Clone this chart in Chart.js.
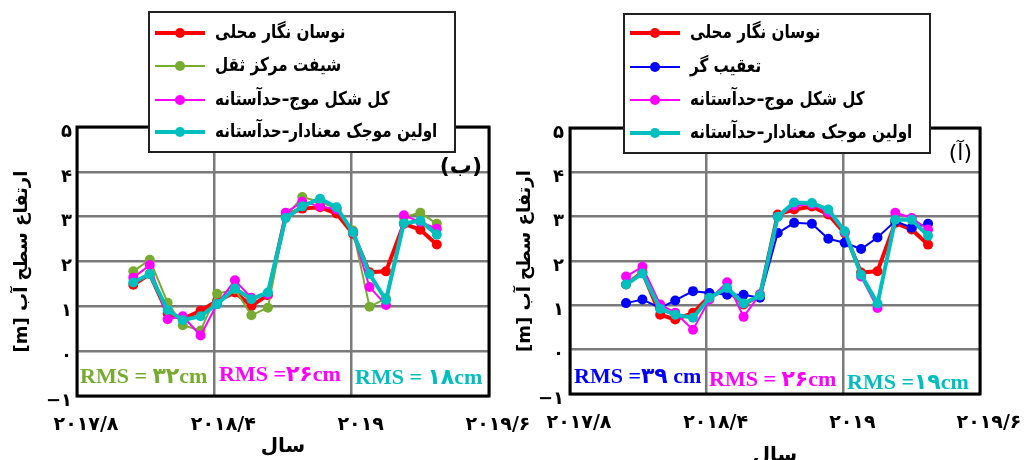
<!DOCTYPE html>
<html>
<head>
<meta charset="utf-8">
<script src="https://cdn.jsdelivr.net/npm/chart.js@4.4.0/dist/chart.umd.min.js"></script>
<style>
  html, body { margin: 0; padding: 0; background: #fff; overflow: hidden; }
  #wrap { position: relative; width: 1025px; height: 460px; }
  canvas { position: absolute; top: 0; }
  #left { left: 0; }
  #right { left: 512px; }
</style>
</head>
<body>
<div id="wrap">
  <canvas id="left" width="545" height="460"></canvas>
  <canvas id="right" width="513" height="460"></canvas>
</div>
<script>
// position of each sample along the (evenly spaced) date axis
const xPos = [0.41, 0.53, 0.66, 0.77, 0.90, 1.02, 1.15, 1.27, 1.39, 1.52, 1.64, 1.77, 1.89, 2.01, 2.13, 2.25, 2.38, 2.50, 2.62];
const xTickLabels = ['۲۰۱۷/۸', '۲۰۱۸/۴', '۲۰۱۹', '۲۰۱۹/۶'];
const yTickLabels = ['−۱', '۰', '۱', '۲', '۳', '۴', '۵'];

const seriesNames = {
  gauge: 'نوسان نگار محلی',
  cog: 'شیفت مرکز ثقل',
  tracker: 'تعقیب گر',
  fullWave: 'کل شکل موج–حدآستانه',
  firstWavelet: 'اولین موجک معنادار–حدآستانه'
};

// panel (ب)
const gaugeB    = [1.48, 1.72, 0.84, 0.72, 0.90, 1.12, 1.31, 1.01, 1.25, 3.03, 3.18, 3.21, 3.07, 2.62, 1.76, 1.78, 2.84, 2.71, 2.38];
const cogB      = [1.78, 2.04, 1.08, 0.58, 0.46, 1.28, 1.38, 0.80, 0.97, 3.00, 3.44, 3.33, 3.18, 2.69, 0.99, 1.18, 2.99, 3.09, 2.84];
const fullWaveB = [1.64, 1.92, 0.71, 0.78, 0.35, 1.05, 1.58, 1.19, 1.27, 3.09, 3.33, 3.23, 3.16, 2.65, 1.43, 1.03, 3.03, 2.88, 2.73];
const firstWvB  = [1.53, 1.72, 0.92, 0.69, 0.78, 1.05, 1.40, 1.16, 1.31, 2.97, 3.23, 3.40, 3.21, 2.65, 1.72, 1.14, 2.85, 2.91, 2.60];

// panel (آ)
const gaugeA    = [1.47, 1.75, 0.79, 0.68, 0.83, 1.20, 1.35, 1.02, 1.22, 3.05, 3.16, 3.23, 3.05, 2.63, 1.74, 1.77, 2.86, 2.71, 2.37];
const trackerA  = [1.05, 1.13, 0.94, 1.11, 1.32, 1.28, 1.24, 1.24, 1.17, 2.63, 2.86, 2.84, 2.50, 2.41, 2.27, 2.53, 2.90, 2.75, 2.84];
const fullWaveA = [1.65, 1.87, 1.02, 0.83, 0.45, 1.13, 1.52, 0.74, 1.25, 3.00, 3.25, 3.28, 3.10, 2.65, 1.65, 0.94, 3.09, 2.97, 2.71];
const firstWvA  = [1.47, 1.72, 0.92, 0.79, 0.72, 1.17, 1.39, 1.04, 1.22, 3.00, 3.32, 3.31, 3.16, 2.67, 1.69, 1.04, 2.93, 2.93, 2.57];

const rmsB = ['RMS = ۳۲cm', 'RMS =۲۶cm', 'RMS = ۱۸cm'];
const rmsA = ['RMS =۳۹ cm', 'RMS = ۲۶cm', 'RMS =۱۹cm'];

const RED = '#ff0000', GREEN = '#77ac30', MAGENTA = '#ff00ff', CYAN = '#00bfbf', BLUE = '#0000ff';
const FA = '"DejaVu Sans", sans-serif';

function makeSet(label, values, color, width, order) {
  return {
    label: label,
    data: values.map((v, i) => ({ x: xPos[i], y: v })),
    borderColor: color,
    backgroundColor: color,
    borderWidth: width,
    pointRadius: 5,
    pointBorderWidth: 0,
    pointBackgroundColor: color,
    tension: 0,
    order: order
  };
}

// frame, legend box, RMS notes and panel tag
const extras = {
  id: 'extras',
  afterDraw(chart, args, o) {
    const ctx = chart.ctx, a = chart.chartArea;
    ctx.save();
    ctx.strokeStyle = '#000';
    ctx.lineWidth = 3;
    ctx.strokeRect(a.left, a.top, a.right - a.left, a.bottom - a.top);

    ctx.textBaseline = 'middle';
    ctx.textAlign = 'left';
    ctx.font = 'bold 22px "Liberation Serif", "DejaVu Sans"';
    o.notes.forEach(n => {
      ctx.fillStyle = n.color;
      ctx.fillText(n.text, n.x, n.y);
    });

    ctx.fillStyle = '#000';
    ctx.textAlign = 'right';
    ctx.font = o.tag.font;
    ctx.fillText(o.tag.text, a.right - o.tag.dx, a.top + o.tag.dy);

    const L = o.legend;
    ctx.fillStyle = '#fff';
    ctx.fillRect(L.x, L.y, L.w, L.h);
    ctx.strokeStyle = '#222';
    ctx.lineWidth = 2;
    ctx.strokeRect(L.x, L.y, L.w, L.h);
    ctx.font = 'bold 19px ' + FA;
    ctx.textAlign = 'left';
    chart.data.datasets.forEach((ds, i) => {
      const y = L.y + L.rows[i];
      const x0 = L.x + 6;
      ctx.strokeStyle = ds.borderColor;
      ctx.lineWidth = ds.borderWidth;
      ctx.beginPath();
      ctx.moveTo(x0, y);
      ctx.lineTo(x0 + 50, y);
      ctx.stroke();
      ctx.fillStyle = ds.borderColor;
      ctx.beginPath();
      ctx.arc(x0 + 25, y, 5, 0, Math.PI * 2);
      ctx.fill();
      // condensed, the original face is narrower than DejaVu
      ctx.save();
      ctx.translate(x0 + 60, y);
      ctx.scale(0.8, 1);
      ctx.fillStyle = '#000';
      ctx.fillText(ds.label, 0, 0);
      ctx.restore();
    });
    ctx.restore();
  }
};

function buildChart(id, sets, cfg) {
  return new Chart(document.getElementById(id), {
    type: 'line',
    data: { datasets: sets },
    plugins: [extras],
    options: {
      responsive: false,
      animation: false,
      devicePixelRatio: 1,
      layout: { padding: { top: cfg.top, right: cfg.right, bottom: 0, left: 0 } },
      plugins: {
        legend: { display: false },
        tooltip: { enabled: false },
        extras: { notes: cfg.notes, tag: cfg.tag, legend: cfg.legend }
      },
      scales: {
        x: {
          type: 'linear',
          min: 0,
          max: 3,
          afterFit: s => { s.height = cfg.xh; s.paddingLeft = 0; s.paddingRight = 0; },
          grid: { color: '#7a7a7a', lineWidth: 2.5, drawTicks: false },
          border: { display: false },
          ticks: {
            stepSize: 1,
            autoSkip: false,
            maxRotation: 0,
            labelOffset: 9,
            padding: 18,
            color: '#000',
            font: { family: FA, size: 19, weight: 'bold' },
            callback: v => xTickLabels[Math.round(v)]
          },
          title: {
            display: true,
            text: 'سال',
            color: '#000',
            font: { family: FA, size: 20, weight: 'bold' },
            padding: { top: 0, bottom: cfg.xtPad }
          }
        },
        y: {
          min: -1,
          max: 5,
          afterFit: s => { s.width = cfg.yw; },
          grid: { color: '#7a7a7a', lineWidth: 2.5, drawTicks: false },
          border: { display: false },
          ticks: {
            stepSize: 1,
            padding: cfg.ytickPad,
            labelOffset: 5,
            color: '#000',
            font: { family: FA, size: 18, weight: 'bold' },
            callback: v => yTickLabels[Math.round(v) + 1]
          },
          title: {
            display: true,
            text: '[m] ارتفاع سطح آب',
            color: '#000',
            font: { family: FA, size: 18, weight: 'bold' },
            padding: { top: cfg.ytPad, bottom: 0 }
          }
        }
      }
    }
  });
}

buildChart('left', [
  makeSet(seriesNames.gauge, gaugeB, RED, 4, 4),
  makeSet(seriesNames.cog, cogB, GREEN, 2, 3),
  makeSet(seriesNames.fullWave, fullWaveB, MAGENTA, 2, 2),
  makeSet(seriesNames.firstWavelet, firstWvB, CYAN, 4, 1)
], {
  top: 127, right: 56, xh: 64, yw: 77, xtPad: 1, ytPad: 12, ytickPad: 5,
  notes: [
    { text: rmsB[0], color: GREEN, x: 80, y: 377 },
    { text: rmsB[1], color: MAGENTA, x: 219, y: 375 },
    { text: rmsB[2], color: CYAN, x: 355, y: 378 }
  ],
  tag: { text: '(ب)', font: 'bold 22px ' + FA, dx: 7, dy: 40 },
  legend: { x: 149, y: 12, w: 306, h: 140, rows: [21, 54, 88, 120] }
});

buildChart('right', [
  makeSet(seriesNames.gauge, gaugeA, RED, 4, 4),
  makeSet(seriesNames.tracker, trackerA, BLUE, 2, 3),
  makeSet(seriesNames.fullWave, fullWaveA, MAGENTA, 2, 2),
  makeSet(seriesNames.firstWavelet, firstWvA, CYAN, 4, 1)
], {
  top: 128, right: 45, xh: 66, yw: 58, xtPad: -8, ytPad: 3, ytickPad: 6,
  notes: [
    { text: rmsA[0], color: BLUE, x: 62, y: 377 },
    { text: rmsA[1], color: MAGENTA, x: 197, y: 380 },
    { text: rmsA[2], color: CYAN, x: 335, y: 383 }
  ],
  tag: { text: '(آ)', font: '22px ' + FA, dx: 8, dy: 26 },
  legend: { x: 112, y: 14, w: 306, h: 139, rows: [19, 53, 86, 119] }
});
</script>
</body>
</html>
